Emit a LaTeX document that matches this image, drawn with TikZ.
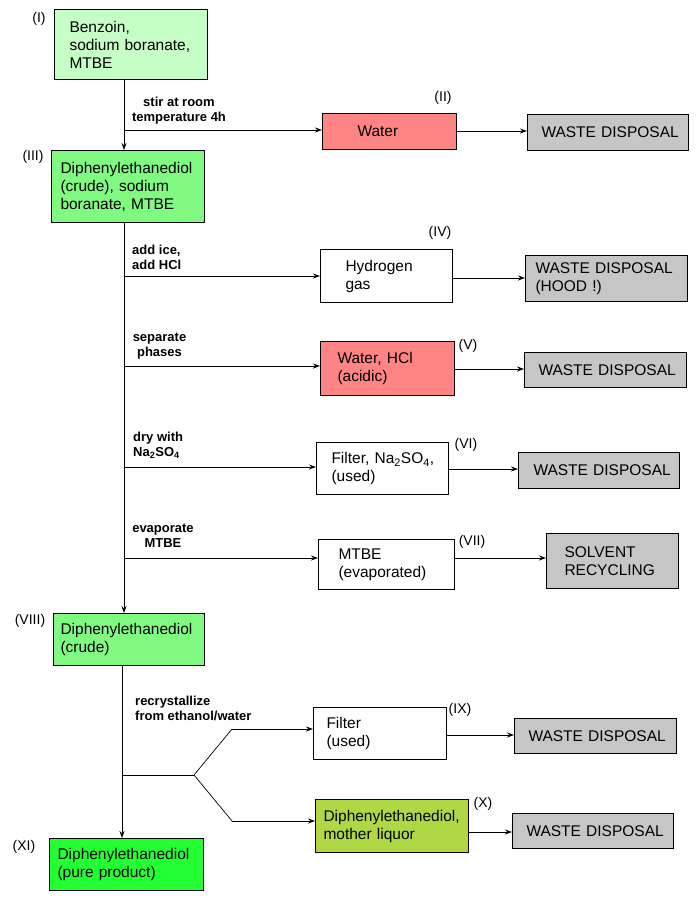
\documentclass[tikz,border=0pt]{standalone}
\usepackage{fontspec}
\setmainfont{Liberation Sans}
\usetikzlibrary{arrows.meta}
\definecolor{cI}{HTML}{C6FFC6}
\definecolor{cIII}{HTML}{80FA80}
\definecolor{cRed}{HTML}{FF8585}
\definecolor{cGray}{HTML}{C6C6C6}
\definecolor{cX}{HTML}{B0D845}
\definecolor{cXI}{HTML}{22FF33}
\newcommand{\boxfont}{\fontsize{15.5}{18}\selectfont}
\newcommand{\condfont}{\bfseries\fontsize{13}{15}\selectfont}
\newcommand{\labfont}{\fontsize{14}{16}\selectfont}
\begin{document}
\hyphenpenalty=10000
\exhyphenpenalty=10000
\begin{tikzpicture}[x=1pt,y=-1pt,
  box/.style={draw, line width=1pt, anchor=north west, inner ysep=0pt, align=left, font=\boxfont},
  lab/.style={font=\labfont, inner sep=0pt},
  cond/.style={font=\condfont, inner sep=0pt},
  arr/.style={-{Stealth[length=7pt,width=5pt,inset=2.5pt]}, line width=1pt},
  ln/.style={line width=1pt},
  diag/.style={line width=0.7pt}]
\useasboundingbox (0,0) rectangle (700,900);

% ---- boxes ----
\node[box, fill=cI, minimum width=153pt, minimum height=70pt, inner xsep=15pt, text width=123pt] (I) at (54,9) {Benzoin,\\sodium~boranate,\\MTBE};
\node[box, fill=cIII, minimum width=153pt, minimum height=72pt, inner xsep=9pt, text width=135pt] (III) at (51,150) {Diphenylethanediol\\(crude),~sodium\\boranate,~MTBE};
\node[box, fill=cRed, minimum width=134pt, minimum height=36pt, inner xsep=35pt, text width=64pt] (W) at (322,113) {Water};
\node[box, fill=cGray, minimum width=161pt, minimum height=36pt, inner xsep=14pt, text width=133pt] (WD1) at (527,114) {WASTE~DISPOSAL};

\node[box, fill=white, minimum width=132pt, minimum height=53pt, inner xsep=25pt, text width=82pt] (IV) at (320,249) {Hydrogen\\gas};
\node[box, fill=cGray, minimum width=162pt, minimum height=46pt, inner xsep=10pt, text width=142pt] (WD2) at (525,255) {WASTE~DISPOSAL\\(HOOD~!)};

\node[box, fill=cRed, minimum width=134pt, minimum height=54pt, inner xsep=17pt, text width=100pt] (V) at (320,341) {Water,~HCl\\(acidic)};
\node[box, fill=cGray, minimum width=162pt, minimum height=35pt, inner xsep=14pt, text width=134pt] (WD3) at (524,352) {WASTE~DISPOSAL};

\node[box, fill=white, minimum width=132pt, minimum height=52pt, inner xsep=15pt, text width=102pt] (VI) at (316,442) {Filter,~Na\textsubscript{2}SO\textsubscript{4},\\(used)};
\node[box, fill=cGray, minimum width=161pt, minimum height=36pt, inner xsep=15pt, text width=131pt] (WD4) at (518,452) {WASTE~DISPOSAL};

\node[box, fill=white, minimum width=136pt, minimum height=50pt, inner xsep=20pt, text width=96pt] (VII) at (318,539) {MTBE\\(evaporated)};
\node[box, fill=cGray, minimum width=132pt, minimum height=55pt, inner xsep=18pt, text width=96pt] (SR) at (546,533) {SOLVENT\\RECYCLING};

\node[box, fill=cIII, minimum width=151pt, minimum height=52pt, inner xsep=7pt, text width=137pt] (VIII) at (53,613) {Diphenylethanediol\\(crude)};

\node[box, fill=white, minimum width=133pt, minimum height=52pt, inner xsep=13pt, text width=107pt] (IX) at (313,707) {Filter\\(used)};
\node[box, fill=cGray, minimum width=162pt, minimum height=35pt, inner xsep=14pt, text width=134pt] (WD5) at (514,718) {WASTE~DISPOSAL};

\node[box, fill=cX, minimum width=153pt, minimum height=53pt, inner xsep=8pt, text width=137pt] (X) at (315,799) {Diphenylethanediol,\\mother~liquor};
\node[box, fill=cGray, minimum width=161pt, minimum height=35pt, inner xsep=14pt, text width=133pt] (WD6) at (512,813) {WASTE~DISPOSAL};

\node[box, fill=cXI, minimum width=154pt, minimum height=52pt, inner xsep=8pt, text width=138pt] (XI) at (49,838) {Diphenylethanediol\\(pure~product)};

% ---- roman labels ----
\node[lab] (nI) at (39,19) {(I)};
\node[lab] (nII) at (443,98) {(II)};
\node[lab] (nIII) at (33,157) {(III)};
\node[lab] (nIV) at (440,233) {(IV)};
\node[lab] (nV) at (468,346) {(V)};
\node[lab] (nVI) at (466,445) {(VI)};
\node[lab] (nVII) at (472,542) {(VII)};
\node[lab] (nVIII) at (30,621) {(VIII)};
\node[lab] (nIX) at (460,710) {(IX)};
\node[lab] (nX) at (483,804) {(X)};
\node[lab] (nXI) at (24,847) {(XI)};

% ---- condition labels ----
\node[cond, align=center] (c1) at (179,110.5) {stir at room\\temperature 4h};
\node[cond, align=left, anchor=west] (c2) at (132,257.5) {add ice,\\add HCl};
\node[cond, align=center] (c3) at (159.5,346) {separate\\phases};
\node[cond, align=left, anchor=west] (c4) at (133,445) {dry with\\Na\textsubscript{2}SO\textsubscript{4}};
\node[cond, align=center] (c5) at (163,536) {evaporate\\MTBE};
\node[cond, align=left, anchor=west] (c6) at (135,708) {recrystallize\\from ethanol/water};

% ---- trunk ----
\coordinate (t1) at (124,0);
\coordinate (t2) at (122,0);
\draw[arr] (I.south -| t1) -- (III.north -| t1);
\draw[arr] (III.south -| t1) -- (VIII.north -| t1);
\draw[arr] (VIII.south -| t2) -- (XI.north -| t2);

% ---- branches from trunk ----
\coordinate (b2) at (124,130);
\coordinate (b4) at (124,276);
\coordinate (b5) at (124,366);
\coordinate (b6) at (124,467);
\coordinate (b7) at (124,558);
\draw[arr] (b2) -- (b2 -| W.west);
\draw[arr] (b4) -- (b4 -| IV.west);
\draw[arr] (b5) -- (b5 -| V.west);
\draw[arr] (b6) -- (b6 -| VI.west);
\draw[arr] (b7) -- (b7 -| VII.west);

% ---- to disposal ----
\coordinate (r2) at (0,131);
\coordinate (r4) at (0,278);
\coordinate (r5) at (0,369);
\coordinate (r6) at (0,469);
\coordinate (r7) at (0,558);
\coordinate (r9) at (0,735);
\coordinate (r10) at (0,832);
\draw[arr] (W.east |- r2) -- (WD1.west |- r2);
\draw[arr] (IV.east |- r4) -- (WD2.west |- r4);
\draw[arr] (V.east |- r5) -- (WD3.west |- r5);
\draw[arr] (VI.east |- r6) -- (WD4.west |- r6);
\draw[arr] (VII.east |- r7) -- (SR.west |- r7);
\draw[arr] (IX.east |- r9) -- (WD5.west |- r9);
\draw[arr] (X.east |- r10) -- (WD6.west |- r10);

% ---- recrystallization split ----
\coordinate (s0) at (123,775);
\coordinate (s1) at (194,775);
\coordinate (s2) at (232,729);
\coordinate (s3) at (232,821);
\draw[ln] (s0) -- (s1);
\draw[diag] (s1) -- (s2);
\draw[diag] (s1) -- (s3);
\draw[arr] (s2) -- (s2 -| IX.west);
\draw[arr] (s3) -- (s3 -| X.west);
\end{tikzpicture}
\end{document}
